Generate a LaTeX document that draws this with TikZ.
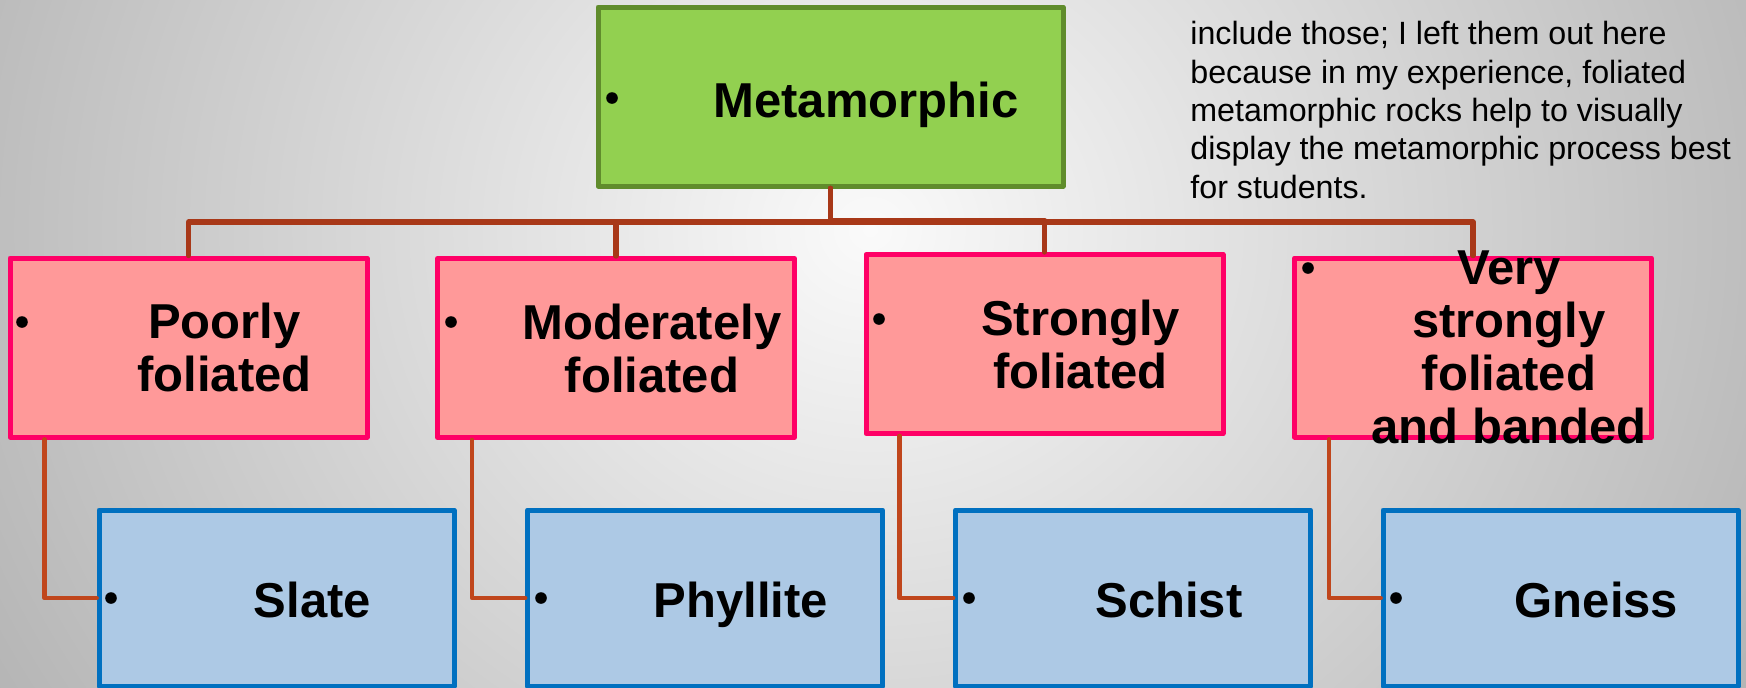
\documentclass[tikz,border=0pt]{standalone}
\usepackage{fontspec}
\setmainfont{Liberation Sans}
\usepackage{tikz}
\usetikzlibrary{calc}
\definecolor{bggray}{RGB}{168,168,168}
\definecolor{bglight}{RGB}{250,250,250}
\definecolor{metafill}{RGB}{146,208,80}
\definecolor{metaline}{RGB}{96,140,44}
\definecolor{foliafill}{RGB}{255,153,153}
\definecolor{folialine}{RGB}{255,0,102}
\definecolor{rockfill}{RGB}{173,201,229}
\definecolor{rockline}{RGB}{0,112,192}
\definecolor{barred}{RGB}{168,56,24}
\definecolor{stemred}{RGB}{192,70,28}
\tikzstyle{every node}=[font=\fontsize{24.5}{26.5}\selectfont\bfseries]
\tikzstyle{rockbox}=[rectangle,line width=2.5pt,minimum width=178.5pt,minimum height=89.5pt,inner sep=0pt]
\tikzstyle{metabox}=[rockbox,draw=metaline,fill=metafill,minimum width=232.5pt]
\tikzstyle{foliabox}=[rockbox,draw=folialine,fill=foliafill]
\tikzstyle{namebox}=[rockbox,draw=rockline,fill=rockfill,minimum width=177.5pt,minimum height=88pt]
\tikzstyle{boxtext}=[align=center,inner sep=0pt]
\tikzstyle{bulletdot}=[circle,fill=black,inner sep=0pt,minimum size=5.8pt]
\tikzstyle{bar}=[line width=2.7pt,color=barred]
\tikzstyle{stem}=[line width=2.4pt,color=stemred]

\begin{document}
\begin{tikzpicture}[line cap=round,line join=round,x=0.5pt,y=-0.5pt]
\useasboundingbox (0,0) rectangle (1746,687);
% backdrop
\fill[color=bggray] (0,0) rectangle (1746,687);
\begin{scope}
  \clip (0,0) rectangle (1746,687);
  \shade[inner color=bglight,outer color=bggray] (-330,-870) rectangle (2070,1330);
\end{scope}

% boxes
\node[metabox] (meta) at (830.5,96.5) {};
\node[foliabox] (poor) at (188.5,347.5) {};
\node[foliabox] (mod) at (616,348) {};
\node[foliabox] (strong) at (1044.5,344) {};
\node[foliabox] (very) at (1473,347.5) {};
\node[namebox] (slate) at (276.5,598) {};
\node[namebox] (phyl) at (705,598) {};
\node[namebox] (schist) at (1133,598) {};
\node[namebox] (gneiss) at (1560.5,598) {};

% connectors
\foreach \child in {poor,mod,strong,very}
  \draw[bar] (meta.south) |- ($(meta.south)!.5!(\child.north)$) -| (\child.north);
\draw[stem] ([xshift=18.5pt]poor.south west) |- (slate.west);
\draw[stem] ([xshift=18.5pt]mod.south west) |- (phyl.west);
\draw[stem] ([xshift=18pt]strong.south west) |- (schist.west);
\draw[stem] ([xshift=18.5pt]very.south west) |- (gneiss.west);

% bullets
\node[bulletdot] (meta-b) at (612,98) {};
\node[bulletdot] (poor-b) at (22,322) {};
\node[bulletdot] (mod-b) at (451,322) {};
\node[bulletdot] (strong-b) at (879,319) {};
\node[bulletdot] (very-b) at (1308,268) {};
\node[bulletdot] (slate-b) at (111,598) {};
\node[bulletdot] (phyl-b) at (541,598) {};
\node[bulletdot] (schist-b) at (969,598) {};
\node[bulletdot] (gneiss-b) at (1396,598) {};

% texts
\node[boxtext,anchor=base] (meta-t) at (866,117) {Metamorphic};
\node[boxtext] (poor-t) at (224.5,347.5) {Poorly\\foliated};
\node[boxtext] (mod-t) at (652,348) {Moderately\\foliated};
\node[boxtext] (strong-t) at (1080.5,344) {Strongly\\foliated};
\node[boxtext] (very-t) at (1509,347.5) {Very\\strongly\\foliated\\and banded};
\node[boxtext,anchor=base] (slate-t) at (312.5,617) {Slate};
\node[boxtext,anchor=base] (phyl-t) at (741,617) {Phyllite};
\node[boxtext,anchor=base] (schist-t) at (1169,617) {Schist};
\node[boxtext,anchor=base] (gneiss-t) at (1596.5,617) {Gneiss};

% side note
\node[anchor=north west,align=left,inner sep=0pt,font=\fontsize{16.1}{19.2}\selectfont] (note) at (1190,21)
  {include those; I left them out here\\because in my experience, foliated\\metamorphic rocks help to visually\\display the metamorphic process best\\for students.};
\end{tikzpicture}
\end{document}
